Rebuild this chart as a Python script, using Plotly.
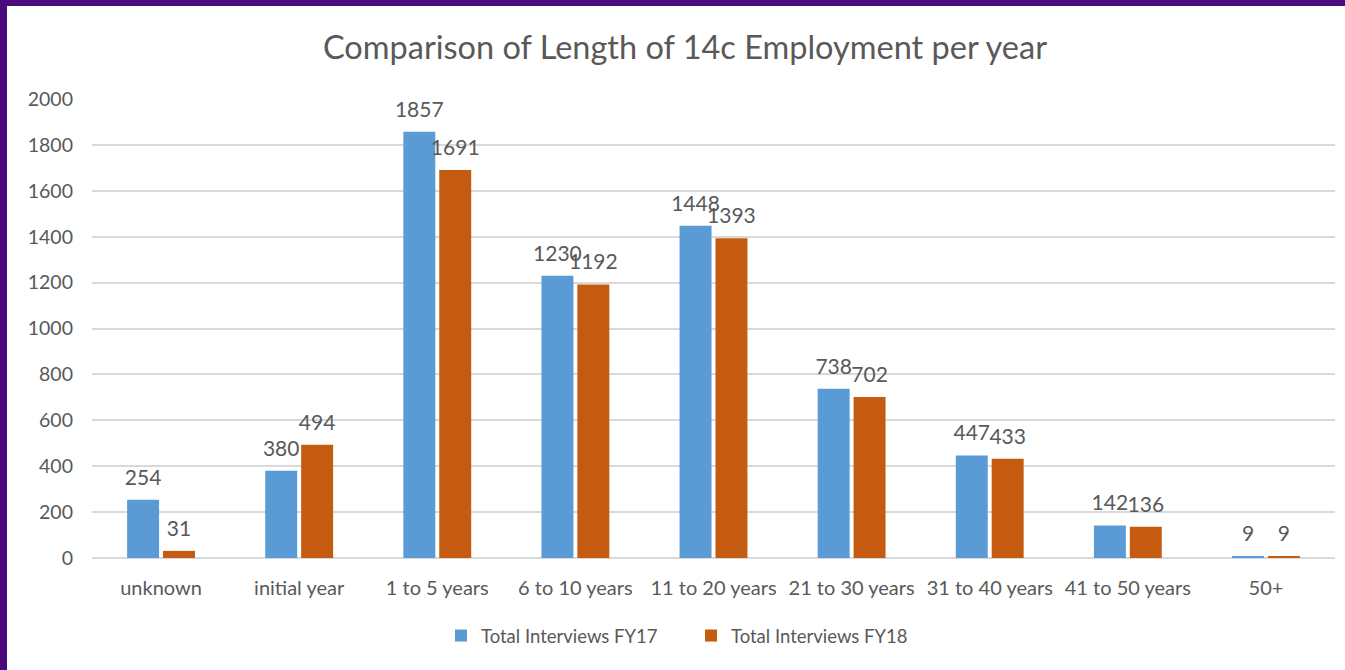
import plotly.graph_objects as go

categories = ["unknown", "initial year", "1 to 5 years", "6 to 10 years", "11 to 20 years",
              "21 to 30 years", "31 to 40 years", "41 to 50 years", "50+"]
fy17 = [254, 380, 1857, 1230, 1448, 738, 447, 142, 9]
fy18 = [31, 494, 1691, 1192, 1393, 702, 433, 136, 9]
series_names = ["Total Interviews FY17", "Total Interviews FY18"]
colors = ["#5B9BD5", "#C55A11"]
title_text = "Comparison of Length of 14c Employment per year"

FONT = "Lato"
GREY = "#595959"

W, H = 1345, 670
L, R, T, B = 92, 10, 99, 112
pw, ph = W - L - R, H - T - B

legend_ids = ["legend", "legend2"]
legend_x = [(441 - L) / pw, (691 - L) / pw]

fig = go.Figure()
for i, (name, vals, col, lid) in enumerate(zip(series_names, [fy17, fy18], colors, legend_ids)):
    fig.add_trace(go.Bar(
        x=categories, y=vals, name=name, marker_color=col, marker_line_width=0,
        offsetgroup=str(i), alignmentgroup="g", legend=lid,
    ))
for i, vals in enumerate([fy17, fy18]):
    fig.add_trace(go.Scatter(
        x=categories, y=vals, mode="markers+text", text=[str(v) for v in vals],
        textposition="top center", marker=dict(size=14, color="rgba(0,0,0,0)"),
        textfont=dict(family=FONT, size=21, color=GREY),
        offsetgroup=str(i), alignmentgroup="g", showlegend=False,
        hoverinfo="skip", cliponaxis=False,
    ))

purple = "#4A0A7E"
shapes = [
    dict(type="rect", xref="paper", yref="paper", x0=-L / pw, x1=(7 - L) / pw,
         y0=-B / ph, y1=1 + T / ph, fillcolor=purple, line_width=0, layer="above"),
    dict(type="rect", xref="paper", yref="paper", x0=-L / pw, x1=1 + R / pw,
         y0=1 + (T - 6) / ph, y1=1 + T / ph, fillcolor=purple, line_width=0, layer="above"),
]

leg_common = dict(orientation="h", xanchor="left", y=-(636 - 558) / ph, yanchor="middle",
                  font=dict(family=FONT, size=18.5, color=GREY), itemwidth=30,
                  bgcolor="rgba(0,0,0,0)")

fig.update_layout(
    width=W, height=H,
    margin=dict(l=L, r=R, t=T, b=B, pad=0),
    paper_bgcolor="white", plot_bgcolor="white",
    barmode="group", bargap=0.48, bargroupgap=0.11,
    scattermode="group", scattergap=0.48,
    title=dict(text=title_text, x=685 / W, xref="container", xanchor="center",
               y=1 - 48 / H, yref="container", yanchor="middle",
               font=dict(family=FONT, size=32.5, color=GREY)),
    font=dict(family=FONT, color=GREY),
    showlegend=True,
    legend=dict(x=legend_x[0], **leg_common),
    legend2=dict(x=legend_x[1], **leg_common),
    shapes=shapes,
)
fig.update_yaxes(range=[0, 2000], dtick=200, showgrid=True, gridcolor="#D9D9D9",
                 gridwidth=1.5, zeroline=True, zerolinecolor="#D9D9D9", zerolinewidth=1.5,
                 tickfont=dict(family=FONT, size=19.5, color=GREY), ticks="",
                 ticklabelstandoff=18)
fig.update_xaxes(showline=False, tickfont=dict(family=FONT, size=20, color=GREY),
                 ticks="", ticklabelstandoff=16)

fig.write_html("out.html", config={"displayModeBar": False},
               post_script="document.body.style.margin='0';")
